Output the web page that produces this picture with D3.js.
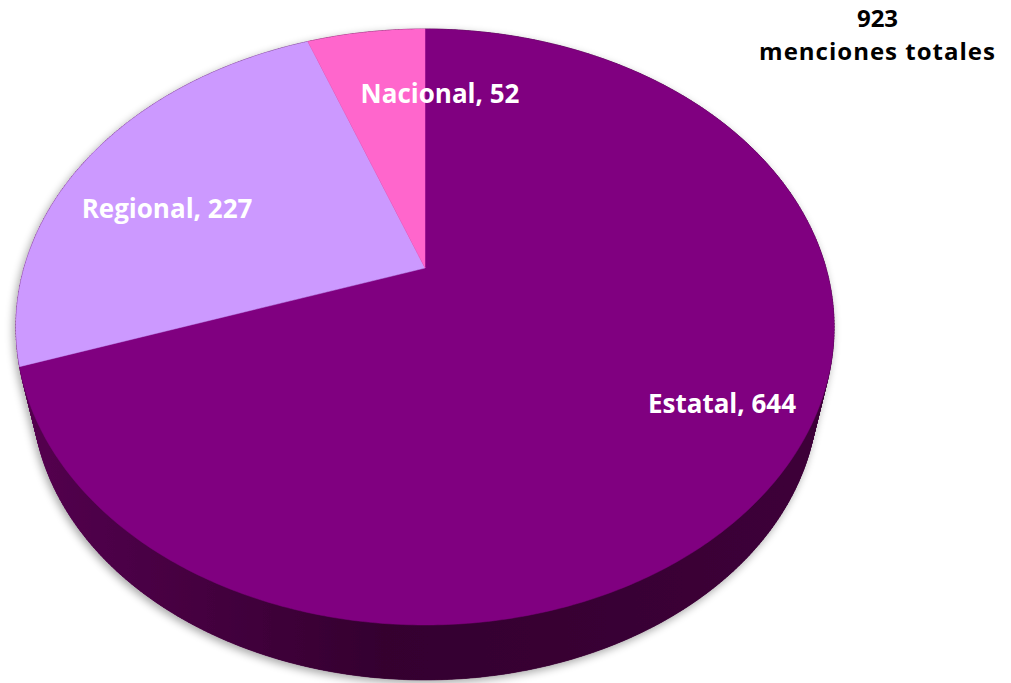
<!DOCTYPE html>
<html>
<head>
<meta charset="utf-8">
<script src="https://cdn.jsdelivr.net/npm/d3@7"></script>
<style>
  html, body { margin: 0; padding: 0; background: #ffffff; }
  svg { display: block; }
  text { font-family: "Open Sans", "DejaVu Sans", sans-serif; font-weight: 700; }
</style>
</head>
<body>
<svg id="chart" width="1011" height="683"></svg>
<script>
// Menciones por ámbito
const categories = ["Estatal", "Regional", "Nacional"];
const values = [644, 227, 52];
const totalLabel = ["923", "menciones totales"];

const topColors = { Estatal: "#800080", Regional: "#cc99ff", Nacional: "#ff66cc" };

// Label anchor points (screen layout)
const labelPos = { Estatal: [722, 413], Regional: [167, 218], Nacional: [440, 103] };

const W = 1011, H = 683;
const svg = d3.select("#chart");
const defs = svg.append("defs");

// Perspective view of a tilted disc
const cx = 425, cy = 268;   // projected pie centre
const R = 401, B = 286.3;   // horizontal / depth radii
const q = 0.198;            // perspective strength
const vx = 425, vy = 2000, k = 0.96; // vanishing point for the disc thickness

function project(phi, r, bottom) {
  const X = r * Math.sin(phi), Z = -r * Math.cos(phi);
  const s = 1 / (1 - q * Z);
  let x = cx + R * X * s, y = cy + B * Z * s;
  if (bottom) { x = vx + (x - vx) * k; y = vy + (y - vy) * k; }
  return [x, y];
}

const pie = d3.pie().sort(null).startAngle(0).endAngle(2 * Math.PI);
const arcs = pie(values).map((d, i) => ({ ...d, name: categories[i] }));

const line = d3.line().curve(d3.curveLinearClosed);

function samples(a0, a1) {
  const n = Math.max(4, Math.ceil((a1 - a0) / 0.01));
  return d3.range(n + 1).map(j => a0 + (a1 - a0) * j / n);
}

// Side gradient
const sideGrad = defs.append("linearGradient").attr("id", "sideGrad")
  .attr("gradientUnits", "userSpaceOnUse")
  .attr("x1", 15).attr("y1", 0).attr("x2", 835).attr("y2", 0);
sideGrad.append("stop").attr("offset", "0%").attr("stop-color", "#550050");
sideGrad.append("stop").attr("offset", "45%").attr("stop-color", "#34002f");
sideGrad.append("stop").attr("offset", "100%").attr("stop-color", "#3d0039");

// Soft shadow under the disc
const shadow = defs.append("filter").attr("id", "shadow")
  .attr("x", "-10%").attr("y", "-10%").attr("width", "120%").attr("height", "120%");
shadow.append("feGaussianBlur").attr("in", "SourceAlpha").attr("stdDeviation", 4).attr("result", "blur");
shadow.append("feOffset").attr("in", "blur").attr("dx", -2).attr("dy", 3).attr("result", "off");
shadow.append("feComponentTransfer").attr("in", "off").attr("result", "soft")
  .append("feFuncA").attr("type", "linear").attr("slope", 0.35);
const merge = shadow.append("feMerge");
merge.append("feMergeNode").attr("in", "soft");
merge.append("feMergeNode").attr("in", "SourceGraphic");

const disc = svg.append("g").attr("filter", "url(#shadow)");

// Bottom face
const full = samples(0, 2 * Math.PI);
disc.append("path")
  .attr("d", line(full.map(a => project(a, 1, true))))
  .attr("fill", "url(#sideGrad)");

// Outer wall, as thin quads between top rim and bottom rim
arcs.forEach(d => {
  const ang = samples(d.startAngle, d.endAngle);
  const wall = disc.append("g");
  for (let j = 0; j < ang.length - 1; j++) {
    const p = [project(ang[j], 1, false), project(ang[j + 1], 1, false),
               project(ang[j + 1], 1, true), project(ang[j], 1, true)];
    wall.append("path").attr("d", line(p))
      .attr("fill", "url(#sideGrad)").attr("stroke", "url(#sideGrad)").attr("stroke-width", 0.6);
  }
});

// Top face slices
arcs.forEach(d => {
  const pts = [[cx, cy]].concat(samples(d.startAngle, d.endAngle).map(a => project(a, 1, false)));
  disc.append("path")
    .attr("d", line(pts))
    .attr("fill", topColors[d.name])
    .attr("stroke", topColors[d.name]).attr("stroke-width", 0.5);
});

// Data labels
arcs.forEach(d => {
  const [x, y] = labelPos[d.name];
  svg.append("text")
    .attr("x", x).attr("y", y)
    .attr("text-anchor", "middle")
    .attr("font-size", 26)
    .attr("fill", "#ffffff")
    .text(`${d.name}, ${d.value}`);
});

// Total, two lines
svg.append("text")
  .attr("x", 877.5).attr("y", 26.5)
  .attr("text-anchor", "middle").attr("font-size", 24).attr("fill", "#000000")
  .text(totalLabel[0]);
svg.append("text")
  .attr("x", 877.5).attr("y", 59.5)
  .attr("text-anchor", "middle").attr("font-size", 24).attr("letter-spacing", 1)
  .attr("fill", "#000000")
  .text(totalLabel[1]);
</script>
</body>
</html>
